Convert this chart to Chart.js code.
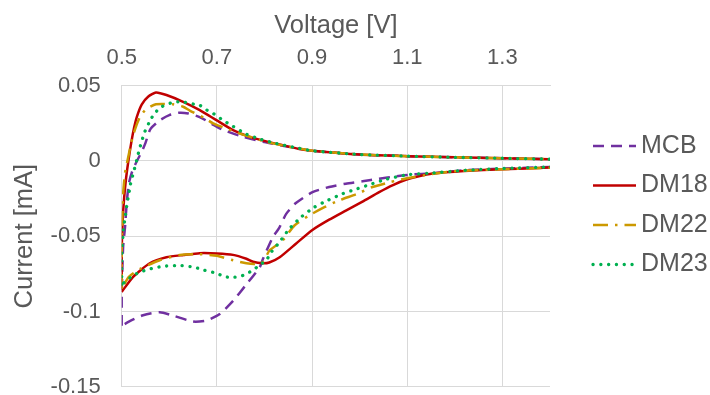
<!DOCTYPE html>
<html>
<head>
<meta charset="utf-8">
<script src="https://cdn.jsdelivr.net/npm/chart.js@4.4.1/dist/chart.umd.min.js"></script>
<style>
  html, body { margin: 0; padding: 0; background: #fff; }
</style>
</head>
<body>
<canvas id="cv" width="710" height="395"></canvas>
<script>
const seriesNames = ["MCB", "DM18", "DM22", "DM23"];
const xTicks = [0.5, 0.7, 0.9, 1.1, 1.3];
const yTicks = [-0.15, -0.1, -0.05, 0, 0.05];

// each loop: forward sweep 0.5 -> 1.45 V, then reverse sweep back to 0.5 V
const mcbV = [0.5, 0.5, 0.503, 0.507, 0.5105, 0.515, 0.522, 0.532, 0.542, 0.55, 0.56, 0.58, 0.6, 0.62, 0.64, 0.665, 0.69, 0.71, 0.75, 0.8, 0.85, 0.9, 1.0, 1.1, 1.2, 1.3, 1.4, 1.45,
  1.45, 1.4, 1.3, 1.22, 1.15, 1.11, 1.076, 1.041, 1.006, 0.971, 0.936, 0.901, 0.866, 0.846, 0.83, 0.8175, 0.797, 0.79, 0.762, 0.734, 0.706, 0.678, 0.65, 0.61, 0.58, 0.545, 0.52, 0.5];
const mcbI = [-0.1095, -0.09, -0.057, -0.044, -0.028, -0.015, -0.007, 0.0, 0.006, 0.012, 0.021, 0.027, 0.0305, 0.032, 0.0315, 0.029, 0.0245, 0.021, 0.0165, 0.0125, 0.0095, 0.0068, 0.0043, 0.0032, 0.0024, 0.0018, 0.0012, 0.001,
  -0.0035, -0.004, -0.0051, -0.0062, -0.0083, -0.009, -0.0102, -0.0118, -0.0135, -0.0151, -0.0173, -0.0207, -0.028, -0.035, -0.045, -0.0507, -0.065, -0.0707, -0.082, -0.093, -0.1017, -0.106, -0.1067, -0.103, -0.1005, -0.1025, -0.106, -0.1095];

const dm18V = [0.5, 0.5, 0.502, 0.505, 0.509, 0.514, 0.52, 0.526, 0.532, 0.542, 0.556, 0.572, 0.594, 0.629, 0.664, 0.699, 0.734, 0.769, 0.804, 0.838, 0.873, 0.9, 1.0, 1.1, 1.2, 1.3, 1.4, 1.45,
  1.45, 1.4, 1.3, 1.22, 1.153, 1.12, 1.097, 1.07, 1.041, 1.006, 0.971, 0.936, 0.9, 0.866, 0.832, 0.81, 0.796, 0.776, 0.762, 0.734, 0.7, 0.664, 0.63, 0.594, 0.559, 0.524, 0.5];
const dm18I = [-0.087, -0.06, -0.04, -0.025, -0.012, 0.0, 0.012, 0.022, 0.0295, 0.0375, 0.0428, 0.0455, 0.0438, 0.0393, 0.0338, 0.0271, 0.0205, 0.016, 0.013, 0.0105, 0.008, 0.0068, 0.0043, 0.0032, 0.0024, 0.0018, 0.0012, 0.001,
  -0.0035, -0.0044, -0.0055, -0.0067, -0.0084, -0.0105, -0.0125, -0.016, -0.0207, -0.027, -0.033, -0.039, -0.046, -0.055, -0.064, -0.0675, -0.068, -0.067, -0.065, -0.0624, -0.0615, -0.0613, -0.0625, -0.064, -0.068, -0.077, -0.087];

const dm22V = [0.5, 0.5, 0.501, 0.503, 0.507, 0.512, 0.52, 0.528, 0.538, 0.55, 0.572, 0.608, 0.629, 0.643, 0.674, 0.692, 0.72, 0.75, 0.78, 0.8, 0.85, 0.9, 1.0, 1.1, 1.2, 1.3, 1.4, 1.45,
  1.45, 1.4, 1.3, 1.2, 1.15, 1.097, 1.065, 1.027, 0.9955, 0.957, 0.926, 0.894, 0.863, 0.838, 0.8106, 0.797, 0.78, 0.762, 0.734, 0.7, 0.664, 0.622, 0.58, 0.54, 0.515, 0.5];
const dm22I = [-0.085, -0.06, -0.04, -0.022, -0.008, 0.0, 0.012, 0.021, 0.029, 0.034, 0.0377, 0.0376, 0.036, 0.0335, 0.0285, 0.025, 0.0215, 0.018, 0.015, 0.013, 0.0095, 0.0068, 0.0043, 0.0032, 0.0024, 0.0018, 0.0012, 0.001,
  -0.0035, -0.0045, -0.0055, -0.0068, -0.0088, -0.0117, -0.014, -0.0173, -0.0218, -0.0262, -0.0307, -0.0362, -0.0429, -0.0529, -0.0595, -0.067, -0.0685, -0.068, -0.066, -0.063, -0.062, -0.0625, -0.066, -0.0715, -0.077, -0.085];

const dm23V = [0.5, 0.5, 0.5035, 0.507, 0.5115, 0.515, 0.518, 0.522, 0.527, 0.532, 0.537, 0.542, 0.547, 0.561, 0.57, 0.584, 0.598, 0.615, 0.632, 0.647, 0.664, 0.678, 0.692, 0.713, 0.734, 0.762, 0.793, 0.825, 0.86, 0.9, 1.0, 1.1, 1.2, 1.3, 1.4, 1.45,
  1.45, 1.4, 1.3, 1.222, 1.146, 1.1, 1.055, 1.027, 0.9955, 0.964, 0.933, 0.905, 0.877, 0.8525, 0.8315, 0.814, 0.8037, 0.788, 0.777, 0.762, 0.748, 0.734, 0.7163, 0.699, 0.671, 0.6535, 0.622, 0.587, 0.556, 0.538, 0.524, 0.5105, 0.5];
const dm23I = [-0.082, -0.064, -0.046, -0.038, -0.028, -0.022, -0.016, -0.011, -0.005, 0.001, 0.0076, 0.0127, 0.0183, 0.0276, 0.032, 0.036, 0.038, 0.0393, 0.039, 0.038, 0.037, 0.034, 0.0316, 0.027, 0.023, 0.0178, 0.0143, 0.0116, 0.0092, 0.0068, 0.0043, 0.0032, 0.0024, 0.0018, 0.0012, 0.001,
  -0.0035, -0.004, -0.005, -0.0062, -0.0082, -0.0092, -0.0122, -0.0151, -0.0184, -0.0218, -0.0262, -0.0307, -0.0373, -0.045, -0.054, -0.0607, -0.066, -0.0695, -0.0724, -0.075, -0.0769, -0.0773, -0.0769, -0.0746, -0.0724, -0.0707, -0.0695, -0.07, -0.072, -0.074, -0.076, -0.0795, -0.082];

const FONT = "'Liberation Sans', Arial, sans-serif";
const GREY = "#595959";
const GRID = "#d9d9d9";

const pts = (v, c) => v.map((x, k) => ({ x: x, y: c[k] }));

const datasets = [
  { label: seriesNames[0], data: pts(mcbV, mcbI), borderColor: "#7030A0", borderWidth: 2.5, borderDash: [11, 7], order: 4 },
  { label: seriesNames[1], data: pts(dm18V, dm18I), borderColor: "#C00000", borderWidth: 2.5, order: 3 },
  { label: seriesNames[2], data: pts(dm22V, dm22I), borderColor: "#CC9900", borderWidth: 2.5, borderDash: [15, 7, 2.5, 7], order: 2 },
  { label: seriesNames[3], data: pts(dm23V, dm23I), borderColor: "#00B050", borderWidth: 3.3, borderDash: [0.1, 7.7], borderCapStyle: "round", order: 1 },
].map((d) => Object.assign({ showLine: true, pointRadius: 0, fill: false, tension: 0.2 }, d));

// legend drawn by hand so it can sit away from the plot like the original
const legendBox = { x: 593, len: 43, gap: 5, top: 146, step: 39.5 };
const sideLegend = {
  id: "sideLegend",
  afterDraw(chart) {
    const c = chart.ctx;
    datasets.forEach((ds, i) => {
      const y = legendBox.top + i * legendBox.step;
      c.save();
      c.strokeStyle = ds.borderColor;
      c.lineWidth = ds.borderWidth;
      c.lineCap = ds.borderCapStyle || "butt";
      c.setLineDash(ds.borderDash || []);
      c.beginPath();
      c.moveTo(legendBox.x, y);
      c.lineTo(legendBox.x + legendBox.len, y);
      c.stroke();
      c.setLineDash([]);
      c.fillStyle = GREY;
      c.font = "25px " + FONT;
      c.textBaseline = "middle";
      c.fillText(ds.label, legendBox.x + legendBox.len + legendBox.gap, y);
      c.restore();
    });
  },
};

new Chart(document.getElementById("cv").getContext("2d"), {
  type: "scatter",
  data: { datasets: datasets },
  options: {
    responsive: false,
    animation: false,
    layout: { padding: { left: 4, top: 4, right: 160, bottom: 8.3 } },
    plugins: { legend: { display: false }, tooltip: { enabled: false } },
    scales: {
      x: {
        type: "linear",
        position: "top",
        min: 0.5,
        max: 1.4,
        afterBuildTicks: (s) => { s.ticks = xTicks.map((v) => ({ value: v })); },
        // fixed axis band, no extra label padding at the ends
        afterFit: (s) => { s.height = 81.7; s.paddingLeft = 0; s.paddingRight = 0; },
        ticks: { color: GREY, font: { family: FONT, size: 22 }, padding: 15, maxRotation: 0, autoSkip: false, callback: (v) => String(v) },
        grid: { color: GRID, drawTicks: false },
        border: { color: GRID },
        title: { display: true, text: "Voltage [V]", color: GREY, font: { family: FONT, size: 25.5 }, padding: { top: 7, bottom: 3 } },
      },
      y: {
        type: "linear",
        min: -0.15,
        max: 0.05,
        afterBuildTicks: (s) => { s.ticks = yTicks.map((v) => ({ value: v })); },
        afterFit: (s) => { s.width = 117.7; s.paddingTop = 0; s.paddingBottom = 0; },
        ticks: { color: GREY, font: { family: FONT, size: 22 }, padding: 21, autoSkip: false, callback: (v) => String(v) },
        grid: { color: GRID, drawTicks: false },
        border: { color: GRID },
        title: { display: true, text: "Current [mA]", color: GREY, font: { family: FONT, size: 25.5 }, padding: { top: 6, bottom: 6 } },
      },
    },
  },
  plugins: [sideLegend],
});
</script>
</body>
</html>
